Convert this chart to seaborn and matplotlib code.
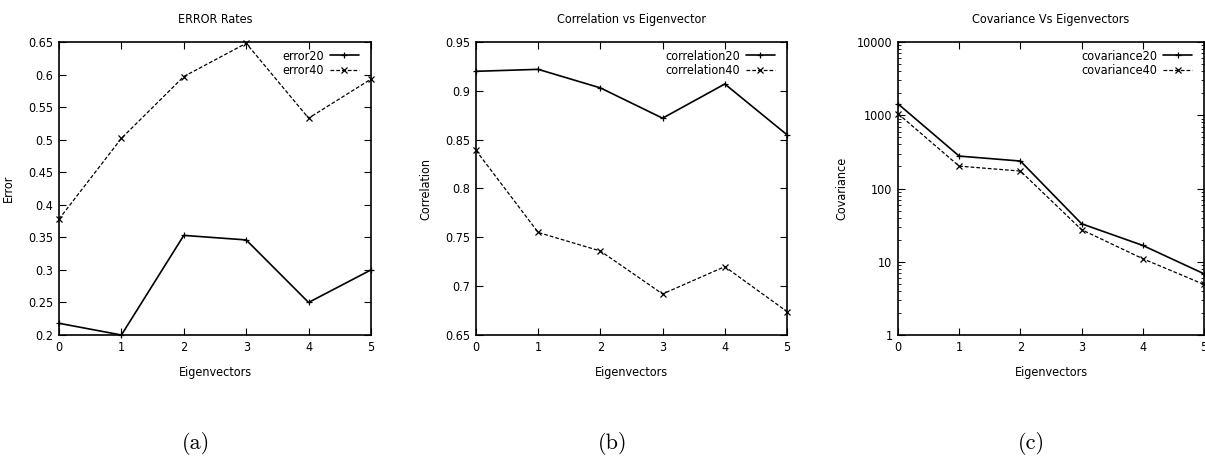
import matplotlib
matplotlib.use("Agg")
import matplotlib.pyplot as plt
import matplotlib.ticker as mticker
import seaborn as sns
import pandas as pd

# ---- data ----
eigenvectors = [0, 1, 2, 3, 4, 5]
error20 = [0.218, 0.200, 0.353, 0.346, 0.250, 0.300]
error40 = [0.378, 0.502, 0.597, 0.648, 0.533, 0.593]
correlation20 = [0.920, 0.922, 0.903, 0.872, 0.907, 0.855]
correlation40 = [0.839, 0.755, 0.736, 0.692, 0.720, 0.674]
covariance20 = [1430, 277, 237, 33, 16.7, 6.85]
covariance40 = [1050, 202, 173, 27.4, 11, 4.9]

error_ticks = [0.2, 0.25, 0.3, 0.35, 0.4, 0.45, 0.5, 0.55, 0.6, 0.65]
error_ticklabels = ["0.2", "0.25", "0.3", "0.35", "0.4", "0.45", "0.5", "0.55", "0.6", "0.65"]
corr_ticks = [0.65, 0.7, 0.75, 0.8, 0.85, 0.9, 0.95]
corr_ticklabels = ["0.65", "0.7", "0.75", "0.8", "0.85", "0.9", "0.95"]
cov_ticks = [1, 10, 100, 1000, 10000]
cov_ticklabels = ["1", "10", "100", "1000", "10000"]

titles = ["ERROR Rates", "Correlation vs Eigenvector", "Covariance Vs Eigenvectors"]
ylabels = ["Error", "Correlation", "Covariance"]
names = [("error20", "error40"), ("correlation20", "correlation40"),
         ("covariance20", "covariance40")]
captions = ["(a)", "(b)", "(c)"]

sns.set_style("ticks")
plt.rcParams['font.family'] = ['DejaVu Sans']
plt.rcParams['font.stretch'] = 'condensed'
plt.rcParams['text.color'] = 'black'
plt.rcParams['axes.labelcolor'] = 'black'
plt.rcParams['xtick.color'] = 'black'
plt.rcParams['ytick.color'] = 'black'

FS = 9

fig = plt.figure(figsize=(12.05, 4.61), dpi=100)
W, H = 1205, 461
boxes = [(59, 371), (476, 787), (898, 1204)]
top_px, bot_px = 42, 335
caption_x = [196, 613, 1031]
ylabel_x = [15, 432, 848]

series = [(error20, error40), (correlation20, correlation40), (covariance20, covariance40)]

for i in range(3):
    l, r = boxes[i]
    ax = fig.add_axes([l / W, 1 - bot_px / H, (r - l) / W, (bot_px - top_px) / H])
    s20, s40 = series[i]
    df = pd.DataFrame({"x": eigenvectors, "a": s20, "b": s40})
    sns.lineplot(data=df, x="x", y="a", ax=ax, color="black", linewidth=1.2,
                 marker="+", markersize=5, markeredgecolor="black", markeredgewidth=0.9,
                 label=names[i][0], clip_on=False, zorder=3)
    sns.lineplot(data=df, x="x", y="b", ax=ax, color="black", linewidth=0.9,
                 linestyle=(0, (3, 1.6)), marker="x", markersize=4,
                 markeredgecolor="black", markeredgewidth=0.9,
                 label=names[i][1], clip_on=False, zorder=3)
    ax.set_xlim(0, 5)
    ax.set_xticks(eigenvectors)
    if i == 0:
        ax.set_ylim(0.2, 0.65)
        ax.set_yticks(error_ticks)
        ax.set_yticklabels(error_ticklabels)
    elif i == 1:
        ax.set_ylim(0.65, 0.95)
        ax.set_yticks(corr_ticks)
        ax.set_yticklabels(corr_ticklabels)
    else:
        ax.set_yscale("log")
        ax.set_ylim(1, 10000)
        ax.set_yticks(cov_ticks)
        ax.set_yticklabels(cov_ticklabels)
        ax.yaxis.set_minor_locator(mticker.LogLocator(base=10, subs=range(2, 10)))
        ax.yaxis.set_minor_formatter(mticker.NullFormatter())
    ax.tick_params(which="major", direction="in", length=5, width=0.8,
                   top=True, right=True, labelsize=FS, pad=4, colors="black")
    ax.tick_params(which="minor", direction="in", length=2.5, width=0.6,
                   left=True, right=True, colors="black")
    for sp in ax.spines.values():
        sp.set_visible(True)
        sp.set_linewidth(1.2)
        sp.set_color("black")
    ax.set_title(titles[i], fontsize=FS, pad=14, color="black")
    ax.set_xlabel("Eigenvectors", fontsize=FS, labelpad=9, color="black")
    ax.set_ylabel(ylabels[i], fontsize=FS, color="black")
    ax.yaxis.set_label_coords((ylabel_x[i] - l) / (r - l), 0.5)
    leg = ax.legend(loc="upper right", frameon=False, markerfirst=False, fontsize=FS,
                    handlelength=2.3, handletextpad=0.5, labelspacing=0.15,
                    borderaxespad=0.2, bbox_to_anchor=(0.985, 1.0), labelcolor="black")
    fig.text(caption_x[i] / W, 1 - 443 / H, captions[i], ha="center", va="center",
             fontsize=16, color="black", family=["cmr10", "DejaVu Serif"])

fig.savefig("out.png", dpi=100)
